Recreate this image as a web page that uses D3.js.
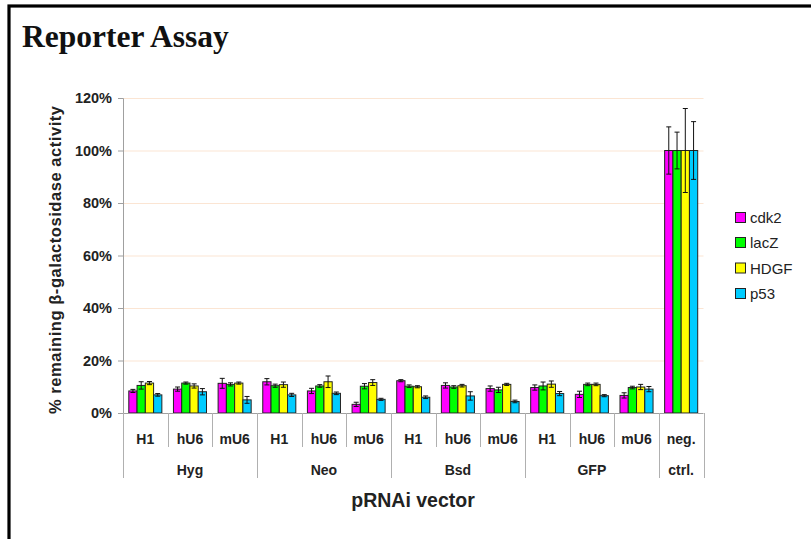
<!DOCTYPE html>
<html><head><meta charset="utf-8">
<script src="https://cdn.jsdelivr.net/npm/d3@7"></script>
<style>
html,body{margin:0;padding:0;background:#fff;}
svg{display:block;}
</style></head>
<body>
<svg id="chart" width="811" height="539"></svg>
<script>
// ---- data ----
const subLabels = ["H1","hU6","mU6","H1","hU6","mU6","H1","hU6","mU6","H1","hU6","mU6","neg."];
const groupLabels = ["Hyg","Neo","Bsd","GFP","ctrl."];
const groupSizes = [3,3,3,3,1];
const seriesNames = ["cdk2","lacZ","HDGF","p53"];
const seriesColors = ["#ff00ff","#00ff00","#ffff00","#00ccff"];
const cdk2 = [8.4, 9.1, 11.3, 11.9, 8.4, 3.3, 12.3, 10.5, 9.3, 9.7, 7.1, 6.7, 100];
const lacZ = [10.5, 11.4, 10.9, 10.4, 10.3, 10.2, 10.2, 9.9, 8.8, 10.3, 10.9, 9.7, 100];
const HDGF = [11.4, 10.3, 11.4, 10.8, 11.9, 11.6, 10.0, 10.4, 10.9, 11.0, 10.9, 9.9, 100];
const p53  = [6.9, 8.1, 5.0, 6.9, 7.5, 5.2, 6.0, 6.5, 4.4, 7.4, 6.6, 9.1, 100];
const cdk2Err = [0.6, 0.8, 1.9, 1.2, 1.0, 0.8, 0.4, 1.0, 1.0, 1.0, 1.2, 1.0, 9];
const lacZErr = [1.4, 0.4, 0.6, 0.6, 0.5, 1.0, 0.5, 0.5, 1.0, 1.5, 0.5, 0.5, 7];
const HDGFErr = [0.6, 0.8, 0.4, 1.0, 2.2, 1.1, 0.4, 0.5, 0.4, 1.2, 0.5, 1.0, 16];
const p53Err  = [0.5, 1.2, 1.3, 0.6, 0.5, 0.4, 0.5, 1.6, 0.5, 0.8, 0.4, 1.0, 11];
const yTicks = [0,20,40,60,80,100,120];

const values = [cdk2, lacZ, HDGF, p53];
const errors = [cdk2Err, lacZErr, HDGFErr, p53Err];

const svg = d3.select("#chart");
const pLeft = 123, pRight = 703.5, pTop = 98, pBottom = 413;

// frame
svg.append("rect").attr("x",9).attr("y",6).attr("width",1000).attr("height",1000)
  .attr("fill","none").attr("stroke","#000").attr("stroke-width",3.2);

// title
svg.append("text").attr("x",22).attr("y",47)
  .attr("font-family","'Liberation Serif', serif").attr("font-weight","bold")
  .attr("font-size",31.5).attr("fill","#111").text("Reporter Assay");

const idx = d3.range(subLabels.length);
const x0 = d3.scaleBand().domain(idx).range([pLeft,pRight]).padding(0);
const x1 = d3.scaleBand().domain(d3.range(seriesNames.length))
  .range([5.8, x0.bandwidth()-5.8]).padding(0);
const y = d3.scaleLinear().domain([0,120]).range([pBottom, pTop]);

// gridlines
svg.append("g").selectAll("line").data(yTicks.filter(d=>d>0)).join("line")
  .attr("x1",pLeft).attr("x2",pRight).attr("y1",d=>y(d)+0.5).attr("y2",d=>y(d)+0.5)
  .attr("stroke","#fbe5d3").attr("stroke-width",1);

// y axis
const yAxis = svg.append("g").attr("transform",`translate(${pLeft},0)`)
  .call(d3.axisLeft(y).tickValues(yTicks).tickFormat(d=>d+"%").tickSize(5).tickPadding(6));
yAxis.select(".domain").attr("stroke","#a0a0a0");
yAxis.selectAll(".tick line").attr("stroke","#a0a0a0");
yAxis.selectAll(".tick text").attr("font-family","'Liberation Sans', Arial, sans-serif")
  .attr("font-weight","bold").attr("font-size",14.5).attr("fill","#222");

// y title
svg.append("text").attr("transform","translate(61,260) rotate(-90)")
  .attr("text-anchor","middle")
  .attr("font-family","'Liberation Sans', Arial, sans-serif").attr("font-weight","bold")
  .attr("font-size",16.5).attr("fill","#222")
  .attr("textLength",308).attr("lengthAdjust","spacing")
  .text("% remaining β-galactosidase activity");

// bars
const bars = svg.append("g");
idx.forEach(i=>{
  const g = bars.append("g").attr("transform",`translate(${x0(i)},0)`);
  seriesNames.forEach((s,k)=>{
    const v = values[k][i];
    g.append("rect").attr("x",x1(k)).attr("y",y(v)).attr("width",x1.bandwidth())
      .attr("height",y(0)-y(v)).attr("fill",seriesColors[k])
      .attr("stroke","#222").attr("stroke-width",1);
  });
});
// error bars
const errs = svg.append("g");
idx.forEach(i=>{
  seriesNames.forEach((s,k)=>{
    const v = values[k][i], e = errors[k][i];
    const cx = x0(i)+x1(k)+x1.bandwidth()/2;
    errs.append("line").attr("x1",cx).attr("x2",cx).attr("y1",y(v+e)).attr("y2",y(v-e))
      .attr("stroke","#111").attr("stroke-width",1);
    [v+e, v-e].forEach(t=>{
      errs.append("line").attr("x1",cx-2.5).attr("x2",cx+2.5).attr("y1",y(t)).attr("y2",y(t))
        .attr("stroke","#111").attr("stroke-width",1);
    });
  });
});

// x axis
const ax = svg.append("g");
ax.append("line").attr("x1",pLeft).attr("x2",pRight).attr("y1",pBottom+0.5).attr("y2",pBottom+0.5)
  .attr("stroke","#a0a0a0");
let bounds = [0]; groupSizes.forEach(n=>bounds.push(bounds[bounds.length-1]+n));
const xb = i => i < subLabels.length ? x0(i) : pRight;
idx.concat([subLabels.length]).forEach(i=>{
  const isGroup = bounds.includes(i);
  const xx = Math.round(xb(i))+0.5;
  ax.append("line").attr("x1",xx).attr("x2",xx).attr("y1",pBottom)
    .attr("y2", isGroup ? 478 : 447).attr("stroke","#b0b0b0");
});
ax.selectAll("text.sub").data(idx).join("text").attr("class","sub")
  .attr("x",i=>x0(i)+x0.bandwidth()/2).attr("y",444).attr("text-anchor","middle")
  .attr("font-family","'Liberation Sans', Arial, sans-serif").attr("font-weight","bold")
  .attr("font-size",14).attr("fill","#222").text(i=>subLabels[i]);
ax.selectAll("text.grp").data(groupLabels).join("text").attr("class","grp")
  .attr("x",(d,j)=>(xb(bounds[j])+xb(bounds[j+1]))/2).attr("y",475).attr("text-anchor","middle")
  .attr("font-family","'Liberation Sans', Arial, sans-serif").attr("font-weight","bold")
  .attr("font-size",14).attr("fill","#222").text(d=>d);

svg.append("text").attr("x",413).attr("y",507).attr("text-anchor","middle")
  .attr("font-family","'Liberation Sans', Arial, sans-serif").attr("font-weight","bold")
  .attr("font-size",19.5).attr("fill","#222").text("pRNAi vector");

// legend
const legY = [218, 243, 268.5, 294];
const leg = svg.append("g");
seriesNames.forEach((s,k)=>{
  leg.append("rect").attr("x",735.5).attr("y",legY[k]-5.5).attr("width",10).attr("height",10)
    .attr("fill",seriesColors[k]).attr("stroke","#222").attr("stroke-width",1);
  leg.append("text").attr("x",750).attr("y",legY[k]).attr("dy","0.35em")
    .attr("font-family","'Liberation Sans', Arial, sans-serif").attr("font-size",15)
    .attr("fill","#222").text(s);
});
</script>
</body></html>
